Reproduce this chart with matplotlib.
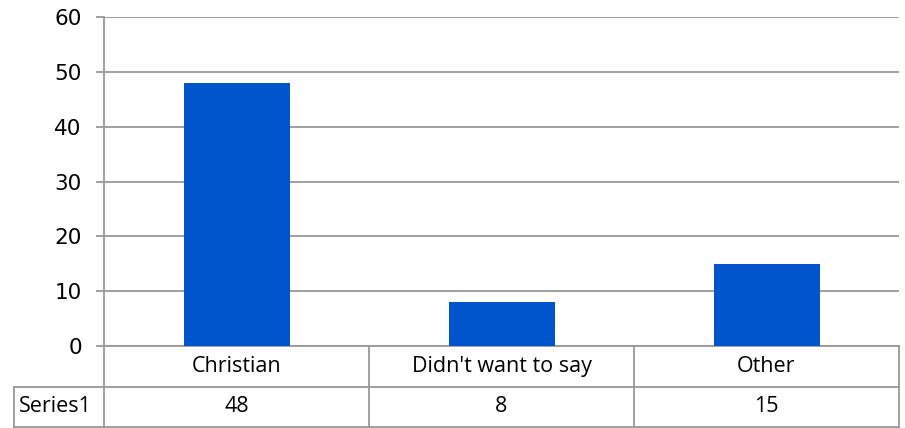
import matplotlib
matplotlib.use("Agg")
import matplotlib.pyplot as plt
from matplotlib.lines import Line2D

categories = ["Christian", "Didn't want to say", "Other"]
series_name = "Series1"
values = [48, 8, 15]
y_ticks = [0, 10, 20, 30, 40, 50, 60]

W, H = 905, 428
fig = plt.figure(figsize=(W / 100, H / 100), dpi=100)
L, R, T, B = 104, 899, 17, 346
ax = fig.add_axes([L / W, 1 - B / H, (R - L) / W, (B - T) / H])

grid = "#999999"
fs = 15.5
lw = 1.3
plt.rcParams['font.family'] = ['Open Sans', 'DejaVu Sans']

x = range(len(categories))
ax.bar(x, values, width=0.4, color="#0055CC", zorder=3)
ax.set_xlim(-0.5, len(categories) - 0.5)
ax.set_ylim(y_ticks[0], y_ticks[-1])
ax.set_yticks(y_ticks)
ax.set_yticklabels([str(t) for t in y_ticks], fontsize=fs)
ax.tick_params(axis='y', length=6, width=lw, color=grid, pad=10)
ax.tick_params(axis='x', bottom=False, labelbottom=False)
ax.yaxis.grid(True, color=grid, linewidth=lw, zorder=0)
for s in ["top", "right", "bottom"]:
    ax.spines[s].set_visible(False)
ax.spines["left"].set_color(grid)
ax.spines["left"].set_linewidth(lw)

# data table below the plot
ph = B - T
r1 = -(387 - B) / ph
r2 = -(427 - B) / ph
tr = ax.get_xaxis_transform()
xl = -0.5 - (L - 14) / ((R - L) / len(categories))
xr = len(categories) - 0.5
lk = dict(color=grid, linewidth=lw, transform=tr, clip_on=False)
ax.add_line(Line2D([-0.5, xr], [0, 0], **lk))
ax.add_line(Line2D([xl, xr], [r1, r1], **lk))
ax.add_line(Line2D([xl, xr], [r2, r2], **lk))
ax.add_line(Line2D([xl, xl], [r1, r2], **lk))
for i in range(len(categories) + 1):
    xv = i - 0.5
    ax.add_line(Line2D([xv, xv], [0, r2], **lk))
for i, (c, v) in enumerate(zip(categories, values)):
    ax.text(i, r1 / 2, c, transform=tr, ha='center', va='center', fontsize=fs)
    ax.text(i, (r1 + r2) / 2, str(v), transform=tr, ha='center', va='center', fontsize=fs)
ax.text(xl + 0.02, (r1 + r2) / 2, series_name, transform=tr, ha='left', va='center', fontsize=fs)

fig.savefig("out.png", dpi=100)
